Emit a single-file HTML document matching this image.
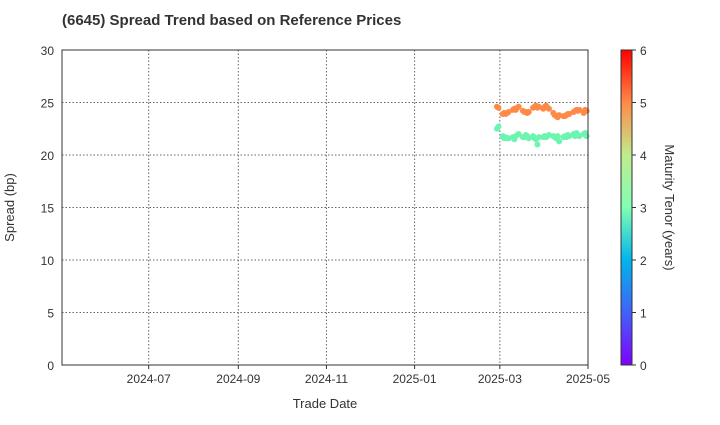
<!DOCTYPE html>
<html><head><meta charset="utf-8"><style>
body{margin:0;background:#fff;font-family:"Liberation Sans",sans-serif;}
svg text{font-family:"Liberation Sans",sans-serif;fill:#333;}
</style></head><body>
<svg id="c" width="720" height="420">
<text x="62" y="25" font-size="15" font-weight="bold">(6645)   Spread Trend based on Reference Prices</text>
<defs><linearGradient id="rb" x1="0" y1="1" x2="0" y2="0">
<stop offset="0" stop-color="#8000ff"/><stop offset="0.167" stop-color="#4062fa"/><stop offset="0.333" stop-color="#00b5eb"/><stop offset="0.5" stop-color="#80ffb4"/><stop offset="0.667" stop-color="#c0eb8d"/><stop offset="0.833" stop-color="#ff8a47"/><stop offset="1" stop-color="#ff0000"/></linearGradient></defs>
<g id="grid"></g><g id="pts"></g><g id="axes"></g>
</svg>
<script>
const dates=["2025-02-27","2025-02-28","2025-03-03","2025-03-04","2025-03-05","2025-03-06","2025-03-07","2025-03-10","2025-03-11","2025-03-12","2025-03-13","2025-03-14","2025-03-17","2025-03-18","2025-03-19","2025-03-20","2025-03-21","2025-03-24","2025-03-25","2025-03-26","2025-03-27","2025-03-28","2025-03-31","2025-04-01","2025-04-02","2025-04-03","2025-04-04","2025-04-07","2025-04-08","2025-04-09","2025-04-10","2025-04-11","2025-04-14","2025-04-15","2025-04-16","2025-04-17","2025-04-18","2025-04-21","2025-04-22","2025-04-23","2025-04-24","2025-04-25","2025-04-28","2025-04-29","2025-04-30"];
const longSpread=[24.6,24.5,23.9,24.0,23.9,24.0,24.1,24.3,24.4,24.3,24.5,24.6,24.2,24.1,24.1,24.0,24.1,24.5,24.6,24.7,24.5,24.6,24.4,24.6,24.7,24.5,24.4,24.0,23.8,23.7,23.6,23.8,23.7,23.7,23.8,23.9,23.9,24.1,24.2,24.3,24.2,24.3,24.0,24.3,24.2];
const shortSpread=[22.5,22.7,21.8,21.6,21.7,21.6,21.6,21.7,21.5,21.8,21.9,22.0,21.7,21.7,21.9,21.8,21.6,21.8,21.6,21.5,21.0,21.7,21.7,21.8,21.7,21.8,21.9,21.8,21.7,21.6,21.8,21.3,21.7,21.8,21.7,21.9,21.8,22.0,21.8,22.1,21.9,21.8,22.0,22.1,21.8];
const yTicks=[0,5,10,15,20,25,30];
const xTickLabels=["2024-07","2024-09","2024-11","2025-01","2025-03","2025-05"];
const cbTicks=[0,1,2,3,4,5,6];
const NS="http://www.w3.org/2000/svg";
const L=62,R=588,T=50,B=365;
const d0=Date.parse("2024-05-02"),d1=Date.parse("2025-05-01");
const xS=d=>L+(Date.parse(d)-d0)/(d1-d0)*(R-L);
const yS=v=>B-v/30*(B-T);
function mk(tag,at,par,txt){const e=document.createElementNS(NS,tag);for(const k in at)e.setAttribute(k,at[k]);if(txt!==undefined)e.textContent=txt;document.getElementById(par).appendChild(e);return e;}
yTicks.forEach(v=>{const y=yS(v);
 if(v>0&&v<30){const g=mk('line',{x1:L,x2:R,y1:y,y2:y,stroke:'#666','stroke-dasharray':'1.5,2','stroke-width':1},'grid');}
 const t=mk('text',{x:L-8,y:y+5,'text-anchor':'end','font-size':12},'axes',v);
 
 });
xTickLabels.forEach(s=>{const x=xS(s+"-01");
 const g=mk('line',{x1:x,x2:x,y1:T,y2:B,stroke:'#666','stroke-dasharray':'1.5,2','stroke-width':1},'grid');
 
 
 mk('line',{x1:x,x2:x,y1:B,y2:B+4,stroke:'#333'},'axes');
 const t=mk('text',{x:x,y:B+18,'text-anchor':'middle','font-size':12},'axes',s);
 
 });
const fr=mk('rect',{x:L,y:T,width:R-L,height:B-T,fill:'none',stroke:'#333'},'axes');


dates.forEach((d,i)=>{
 const a=mk('circle',{cx:xS(d),cy:yS(longSpread[i]),r:3,fill:'#ff8a47'},'pts');
 
 
 const b=mk('circle',{cx:xS(d),cy:yS(shortSpread[i]),r:3,fill:'#6cf5b0'},'pts');
 
 });
const xt=mk('text',{x:(L+R)/2,y:408,'text-anchor':'middle','font-size':13},'axes','Trade Date');


const yt=mk('text',{x:0,y:0,'text-anchor':'middle','font-size':13,transform:`translate(14,${(T+B)/2}) rotate(-90)`},'axes','Spread (bp)');


const cb=mk('rect',{x:621,y:T,width:11,height:B-T,fill:'url(#rb)',stroke:'#333'},'axes');


cbTicks.forEach(v=>{const y=B-v/6*(B-T);
 mk('line',{x1:632,x2:636,y1:y,y2:y,stroke:'#333'},'axes');
 const t=mk('text',{x:640,y:y+5,'font-size':12},'axes',v);
 
 });
const ct=mk('text',{x:0,y:0,'text-anchor':'middle','font-size':13,transform:`translate(665,${(T+B)/2}) rotate(90)`},'axes','Maturity Tenor (years)');


</script>
</body></html>
